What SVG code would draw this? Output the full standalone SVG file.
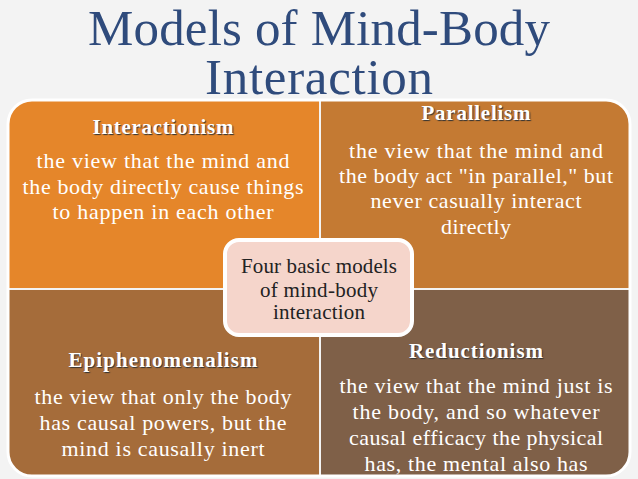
<svg xmlns="http://www.w3.org/2000/svg" width="638" height="479" viewBox="0 0 638 479">
<style>
.t{font-family:"Liberation Serif","DejaVu Serif",serif;fill:#fff;text-anchor:middle}
.h{font-size:21px;font-weight:bold;text-shadow:1px 1px 1px #333}
.b{font-size:22px}
.c{font-family:"Liberation Serif",serif;font-size:21px;fill:#222;text-anchor:middle}
</style>
<rect width="638" height="479" fill="#f3f3f3"/>
<text x="319" y="45" font-family="Liberation Serif,serif" font-size="51" fill="#2F4B7C" text-anchor="middle" textLength="462">Models of Mind-Body</text>
<text x="319" y="94" font-family="Liberation Serif,serif" font-size="51" fill="#2F4B7C" text-anchor="middle" textLength="228">Interaction</text>
<clipPath id="cp"><rect x="8" y="100" width="622" height="376" rx="24"/></clipPath>
<g clip-path="url(#cp)">
<g id="interactionism"><rect x="8" y="100" width="311" height="188" fill="#E5862A"/>
<text class="t h" x="163" y="134" textLength="141">Interactionism</text>
<text class="t b" x="163" y="168" textLength="253">the view that the mind and</text>
<text class="t b" x="163" y="194" textLength="281">the body directly cause things</text>
<text class="t b" x="163" y="219" textLength="221">to happen in each other</text></g>
<g id="parallelism"><rect x="321" y="100" width="309" height="188" fill="#C47A33"/>
<text class="t h" x="476" y="120" textLength="109">Parallelism</text>
<text class="t b" x="476" y="158" textLength="254">the view that the mind and</text>
<text class="t b" x="476" y="183" textLength="274">the body act "in parallel," but</text>
<text class="t b" x="476" y="208" textLength="211">never casually interact</text>
<text class="t b" x="476" y="234" textLength="70">directly</text></g>
<g id="epiphenomenalism"><rect x="8" y="290" width="311" height="186" fill="#A56C3A"/>
<text class="t h" x="163" y="367" textLength="189">Epiphenomenalism</text>
<text class="t b" x="163" y="404" textLength="257">the view that only the body</text>
<text class="t b" x="163" y="430" textLength="247">has causal powers, but the</text>
<text class="t b" x="163" y="456" textLength="203">mind is causally inert</text></g>
<g id="reductionism"><rect x="321" y="290" width="309" height="186" fill="#7F6048"/>
<text class="t h" x="476" y="358" textLength="134">Reductionism</text>
<text class="t b" x="476" y="393" textLength="273">the view that the mind just is</text>
<text class="t b" x="476" y="419" textLength="247">the body, and so whatever</text>
<text class="t b" x="476" y="445" textLength="254">causal efficacy the physical</text>
<text class="t b" x="476" y="471" textLength="223">has, the mental also has</text></g>
</g>
<rect x="8" y="100" width="622" height="376" rx="24" fill="none" stroke="#fff" stroke-width="3"/>
<g id="center"><rect x="225" y="240" width="187" height="95" rx="14" fill="#F5D5CB" stroke="#fff" stroke-width="4"/>
<text class="c" x="319" y="273" textLength="156">Four basic models</text>
<text class="c" x="319" y="297" textLength="118">of mind-body</text>
<text class="c" x="319" y="319" textLength="92">interaction</text></g>
<g id="connectors"></g>
</svg>
